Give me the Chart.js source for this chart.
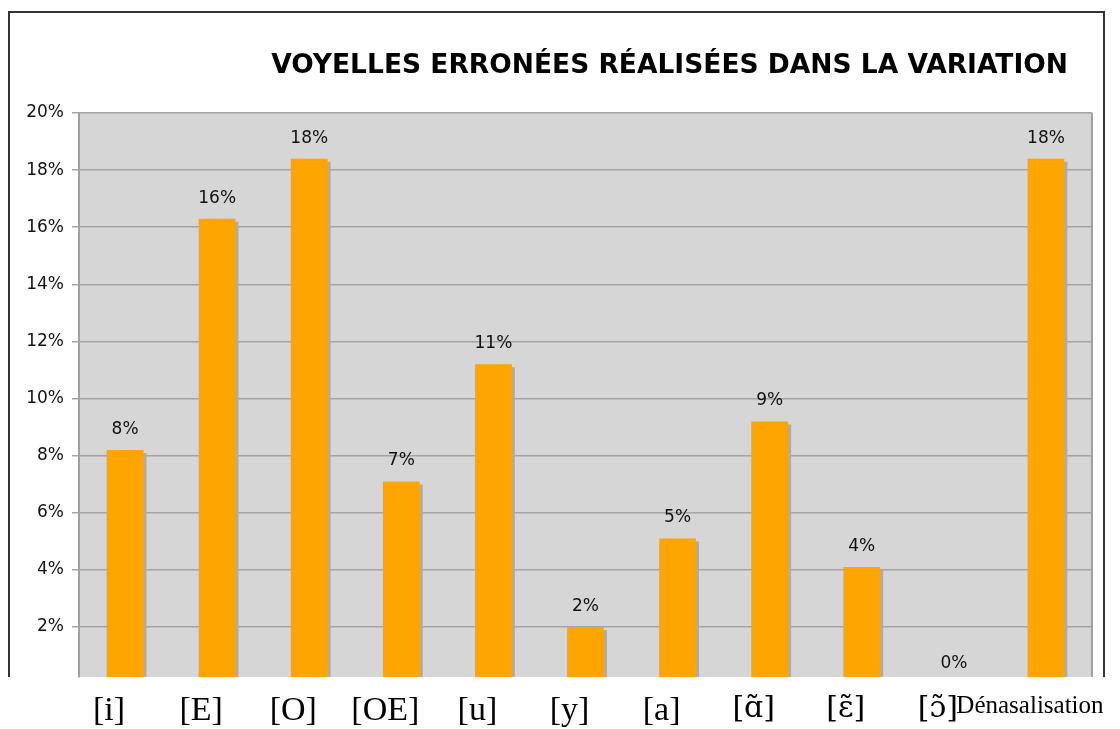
<!DOCTYPE html>
<html>
<head>
<meta charset="utf-8">
<script src="https://cdn.jsdelivr.net/npm/chart.js@4.4.1/dist/chart.umd.min.js"></script>
<style>
  html, body { margin: 0; padding: 0; background: #fff; }
  #wrap { position: relative; width: 1120px; height: 729px; }
  #frame { position: absolute; left: 8px; top: 11px; width: 1097px; height: 666px;
           border: 2px solid #333; border-bottom: none; box-sizing: border-box; }
  #graphic { position: absolute; left: 0; top: 0; }
</style>
</head>
<body>
<div id="wrap">
  <div id="frame"></div>
  <canvas id="graphic" width="1120" height="729"></canvas>
</div>
<script>
// datos
const titulo = "VOYELLES ERRONÉES RÉALISÉES DANS LA VARIATION";
const categorias = ["[i]", "[E]", "[O]", "[OE]", "[u]", "[y]", "[a]", "[ɑ̃]", "[ɛ̃]", "[ɔ̃]", "Dénasalisation"];
const valores = [8.2, 16.3, 18.4, 7.1, 11.2, 2.0, 5.1, 9.2, 4.1, 0, 18.4];
const yTicks = [2, 4, 6, 8, 10, 12, 14, 16, 18, 20];

// fondo gris del area de trazado
const fondo = {
  id: "fondo",
  beforeDraw(chart) {
    const { ctx, chartArea: a } = chart;
    ctx.save();
    ctx.fillStyle = "#d6d6d6";
    ctx.fillRect(a.left, a.top, a.right - a.left, a.bottom - a.top);
    ctx.strokeStyle = "#a0a0a0";
    ctx.lineWidth = 2;
    ctx.beginPath();
    ctx.moveTo(a.right, a.top);
    ctx.lineTo(a.right, a.bottom);
    ctx.stroke();
    ctx.restore();
  }
};

// sombra de las barras
const sombra = {
  id: "sombra",
  beforeDatasetDraw(chart) {
    const ctx = chart.ctx;
    ctx.save();
    ctx.shadowColor = "#acacac";
    ctx.shadowOffsetX = 3;
    ctx.shadowOffsetY = 3;
    ctx.shadowBlur = 0;
  },
  afterDatasetDraw(chart) {
    chart.ctx.restore();
  }
};

// etiquetas de valor y titulo
const etiquetas = {
  id: "etiquetas",
  afterDraw(chart) {
    const ctx = chart.ctx;
    const meta = chart.getDatasetMeta(0);
    ctx.save();
    ctx.fillStyle = "#111";
    ctx.font = "17px 'DejaVu Sans'";
    ctx.textAlign = "center";
    ctx.textBaseline = "bottom";
    meta.data.forEach((bar, i) => {
      ctx.fillText(Math.round(valores[i]) + "%", bar.x, bar.y - 12);
    });
    ctx.font = "bold 26.5px 'DejaVu Sans'";
    ctx.textAlign = "right";
    ctx.textBaseline = "alphabetic";
    ctx.fillStyle = "#000";
    ctx.fillText(titulo, 1068, 73);
    ctx.restore();
  }
};

const serif = "'Liberation Serif', 'DejaVu Serif', serif";

const datos = {
  labels: categorias,
  datasets: [
    {
      label: "Voyelles",
      backgroundColor: "#ffa500",
      borderWidth: 0,
      barPercentage: 0.4,
      categoryPercentage: 1,
      data: valores,
    },
  ],
};

const opciones = {
  responsive: false,
  animation: false,
  layout: { padding: { top: 113, right: 28, left: 0, bottom: 0 } },
  plugins: {
    legend: { display: false },
    tooltip: { enabled: false },
  },
  scales: {
    x: {
      grid: { display: false },
      border: { display: false },
      ticks: {
        color: "#000",
        padding: 6,
        labelOffset: -16,
        maxRotation: 0,
        autoSkip: false,
        font: (c) => {
          if (c.index === 10) return { family: serif, size: 25 };
          if (c.index >= 7) return { family: "'DejaVu Serif', serif", size: 30 };
          return { family: serif, size: 34 };
        },
      },
      afterFit: (s) => {
        s.height = 52;
        s.paddingLeft = 0;
        s.paddingRight = 0;
      },
    },
    y: {
      min: 0.25,
      max: 20,
      afterBuildTicks: (s) => { s.ticks = yTicks.map((v) => ({ value: v })); },
      grid: { color: "#a4a4a4", lineWidth: 1.5, tickLength: 7 },
      border: { color: "#a0a0a0", width: 2 },
      ticks: {
        color: "#111",
        padding: 8,
        font: { family: "'DejaVu Sans'", size: 17 },
        callback: (v) => v + "%",
      },
      afterFit: (s) => { s.width = 79; },
    },
  },
};

const ctx = document.querySelector("#graphic");
const chart = new Chart(ctx, {
  type: "bar",
  data: datos,
  options: opciones,
  plugins: [fondo, sombra, etiquetas],
});
</script>
</body>
</html>
